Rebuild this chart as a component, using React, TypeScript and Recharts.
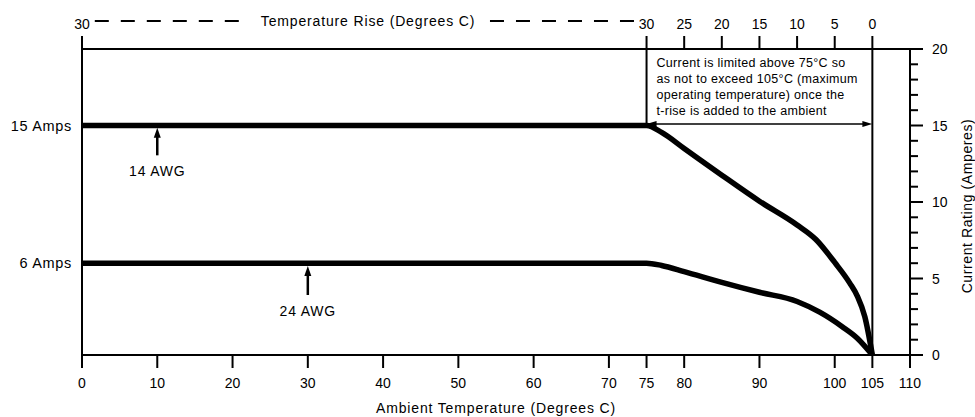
import React from 'react';
import { LineChart, Line, XAxis, YAxis, ReferenceLine, ReferenceArea } from 'recharts';

const FONT = '"Liberation Sans", Arial, Helvetica, sans-serif';

// ambient temperature (deg C) vs current rating (A)
const ambient14 = [0, 75, 77, 80, 85, 90, 95, 97.5, 100, 102, 103, 104, 105];
const amps14 = [15, 15, 14.55, 13.5, 11.75, 10.05, 8.5, 7.55, 6.05, 4.7, 3.85, 2.5, 0];

const ambient24 = [0, 75, 77, 80, 85, 90, 95, 98, 101, 103, 105];
const amps24 = [6, 6, 5.85, 5.45, 4.75, 4.1, 3.5, 2.8, 1.85, 1.1, 0];

const bottomTicks = [0, 10, 20, 30, 40, 50, 60, 70, 75, 80, 90, 100, 105, 110];
const topTicks = [0, 75, 80, 85, 90, 95, 100, 105];
const riseLabels = ['30', '30', '25', '20', '15', '10', '5', '0'];
const leftTicks = [6, 15];
const rightTicks = [0, 1, 2, 3, 4, 5, 6, 7, 8, 9, 10, 11, 12, 13, 14, 15, 16, 17, 18, 19, 20];

const noteLines = [
  'Current is limited above 75°C so',
  'as not to exceed 105°C (maximum',
  'operating temperature) once the',
  't-rise is added to the ambient',
];

const rows14 = ambient14.map((t, i) => ({ t, amps: amps14[i] }));
const rows24 = ambient24.map((t, i) => ({ t, amps: amps24[i] }));

const axisStyle = { stroke: '#000', strokeWidth: 2 };

function RightTick(props: any) {
  const { x, y, payload } = props;
  const major = payload.value % 5 === 0;
  return (
    <g>
      <line x1={x} x2={x + (major ? 13 : 8)} y1={y} y2={y} stroke="#000" strokeWidth={2} />
      {major && (
        <text x={x + 22} y={y} dy="0.36em" fontSize={14} fill="#000" fontFamily={FONT}>
          {payload.value}
        </text>
      )}
    </g>
  );
}

function UpArrow(props: any) {
  const { x1, y1, x2, y2 } = props;
  const head = 10;
  return (
    <g>
      <line x1={x1} y1={y1} x2={x2} y2={y2 + head - 1} stroke="#000" strokeWidth={2.5} />
      <polygon points={`${x2},${y2} ${x2 - 3.5},${y2 + head} ${x2 + 3.5},${y2 + head}`} fill="#000" />
    </g>
  );
}

function DoubleArrow(props: any) {
  const { x1, y1, x2, y2 } = props;
  const h = 10;
  const w = 3;
  return (
    <g>
      <line x1={x1 + 5} y1={y1} x2={x2 - 5} y2={y2} stroke="#000" strokeWidth={1.5} />
      <polygon points={`${x1},${y1} ${x1 + h},${y1 - w} ${x1 + h},${y1 + w}`} fill="#000" />
      <polygon points={`${x2},${y2} ${x2 - h},${y2 - w} ${x2 - h},${y2 + w}`} fill="#000" />
    </g>
  );
}

function NoteText(props: any) {
  const { x, y } = props.viewBox;
  return (
    <g>
      {noteLines.map((s, i) => (
        <text key={i} x={x + 10} y={y + 18 + i * 16} fontSize={12.5} letterSpacing={0.3} fill="#000" fontFamily={FONT}>
          {s}
        </text>
      ))}
    </g>
  );
}

function RightTitle(props: any) {
  const { x, y, height } = props.viewBox;
  const cx = x + 57;
  const cy = y + height / 2 + 4;
  return (
    <text
      x={cx}
      y={cy}
      transform={`rotate(-90 ${cx} ${cy})`}
      textAnchor="middle"
      dominantBaseline="central"
      fontSize={14}
      letterSpacing={0.6}
      fill="#000"
      fontFamily={FONT}
    >
      Current Rating (Amperes)
    </text>
  );
}

export default function App() {
  return (
    <div style={{ position: 'absolute', left: 0, top: 0, background: '#fff' }}>
      <LineChart width={975} height={417} margin={{ top: 0, right: 0, bottom: 0, left: 0 }} style={{ fontFamily: FONT }}>
        <XAxis
          xAxisId="bottom"
          type="number"
          dataKey="t"
          domain={[0, 110]}
          allowDataOverflow
          ticks={bottomTicks}
          interval={0}
          height={62}
          tickSize={13}
          tickMargin={10}
          axisLine={axisStyle}
          tickLine={axisStyle}
          tick={{ fontSize: 14, fill: '#000' }}
          label={{ value: 'Ambient Temperature (Degrees C)', position: 'insideBottom', offset: 4, fontSize: 14, letterSpacing: 0.85, fill: '#000' }}
        />
        <XAxis
          xAxisId="top"
          orientation="top"
          type="number"
          dataKey="t"
          domain={[0, 110]}
          allowDataOverflow
          ticks={topTicks}
          interval={0}
          height={49}
          tickSize={13}
          tickMargin={7}
          axisLine={axisStyle}
          tickLine={axisStyle}
          tick={{ fontSize: 14, fill: '#000' }}
          tickFormatter={(v: number) => riseLabels[topTicks.indexOf(v)]}
        />
        <YAxis
          yAxisId="left"
          type="number"
          domain={[0, 20]}
          allowDataOverflow
          ticks={leftTicks}
          interval={0}
          width={82}
          tickSize={0}
          tickMargin={10}
          tickLine={false}
          axisLine={axisStyle}
          tick={{ fontSize: 14.5, letterSpacing: 0.7, fill: '#000' }}
          tickFormatter={(v: number) => `${v} Amps`}
        />
        <YAxis
          yAxisId="right"
          orientation="right"
          type="number"
          domain={[0, 20]}
          allowDataOverflow
          ticks={rightTicks}
          interval={0}
          width={65}
          tickSize={0}
          tickMargin={0}
          tickLine={false}
          axisLine={axisStyle}
          tick={(p: any) => <RightTick {...p} />}
          label={{ content: (p: any) => <RightTitle {...p} /> }}
        />

        <ReferenceLine xAxisId="bottom" yAxisId="left" x={105} stroke="#000" strokeWidth={2} />
        <ReferenceLine
          xAxisId="bottom"
          yAxisId="left"
          segment={[{ x: 75, y: 15 }, { x: 75, y: 20 }]}
          stroke="#000"
          strokeWidth={2}
        />
        <ReferenceLine
          xAxisId="bottom"
          yAxisId="left"
          segment={[{ x: 75, y: 15.1 }, { x: 105, y: 15.1 }]}
          shape={(p: any) => <DoubleArrow {...p} />}
        />
        <ReferenceArea
          xAxisId="bottom"
          yAxisId="left"
          x1={75}
          x2={105}
          y1={15.2}
          y2={20}
          fill="none"
          fillOpacity={0}
          stroke="none"
          label={{ content: (p: any) => <NoteText {...p} /> }}
        />

        <ReferenceLine
          xAxisId="bottom"
          yAxisId="left"
          ifOverflow="visible"
          segment={[{ x: 1.7, y: 21.83 }, { x: 21.7, y: 21.83 }]}
          stroke="#000"
          strokeWidth={2}
          strokeDasharray="14 12"
        />
        <ReferenceLine
          xAxisId="bottom"
          yAxisId="left"
          ifOverflow="visible"
          segment={[{ x: 54.2, y: 21.83 }, { x: 74.1, y: 21.83 }]}
          stroke="#000"
          strokeWidth={2}
          strokeDasharray="14 12"
        />
        <ReferenceLine
          xAxisId="bottom"
          yAxisId="left"
          ifOverflow="visible"
          segment={[{ x: 22, y: 21.83 }, { x: 54, y: 21.83 }]}
          stroke="none"
          label={{ value: 'Temperature Rise (Degrees C)', position: 'center', fontSize: 14, letterSpacing: 0.85, fill: '#000' }}
        />

        <ReferenceLine
          xAxisId="bottom"
          yAxisId="left"
          segment={[{ x: 10, y: 13.05 }, { x: 10, y: 14.85 }]}
          shape={(p: any) => <UpArrow {...p} />}
          label={{ value: '14 AWG', position: 'bottom', offset: 11, fontSize: 14, letterSpacing: 0.8, fill: '#000' }}
        />
        <ReferenceLine
          xAxisId="bottom"
          yAxisId="left"
          segment={[{ x: 30, y: 3.92 }, { x: 30, y: 5.82 }]}
          shape={(p: any) => <UpArrow {...p} />}
          label={{ value: '24 AWG', position: 'bottom', offset: 11, fontSize: 14, letterSpacing: 0.8, fill: '#000' }}
        />

        {/* invisible series so the top (temperature rise) axis gets drawn */}
        <Line
          xAxisId="top"
          yAxisId="right"
          data={rows24}
          dataKey="amps"
          stroke="none"
          strokeWidth={0}
          dot={false}
          activeDot={false}
          legendType="none"
          isAnimationActive={false}
        />
        <Line
          xAxisId="bottom"
          yAxisId="left"
          data={rows14}
          dataKey="amps"
          type="monotone"
          stroke="#000"
          strokeWidth={5.5}
          dot={false}
          activeDot={false}
          isAnimationActive={false}
        />
        <Line
          xAxisId="bottom"
          yAxisId="left"
          data={rows24}
          dataKey="amps"
          type="monotone"
          stroke="#000"
          strokeWidth={5.5}
          dot={false}
          activeDot={false}
          isAnimationActive={false}
        />
      </LineChart>
    </div>
  );
}
